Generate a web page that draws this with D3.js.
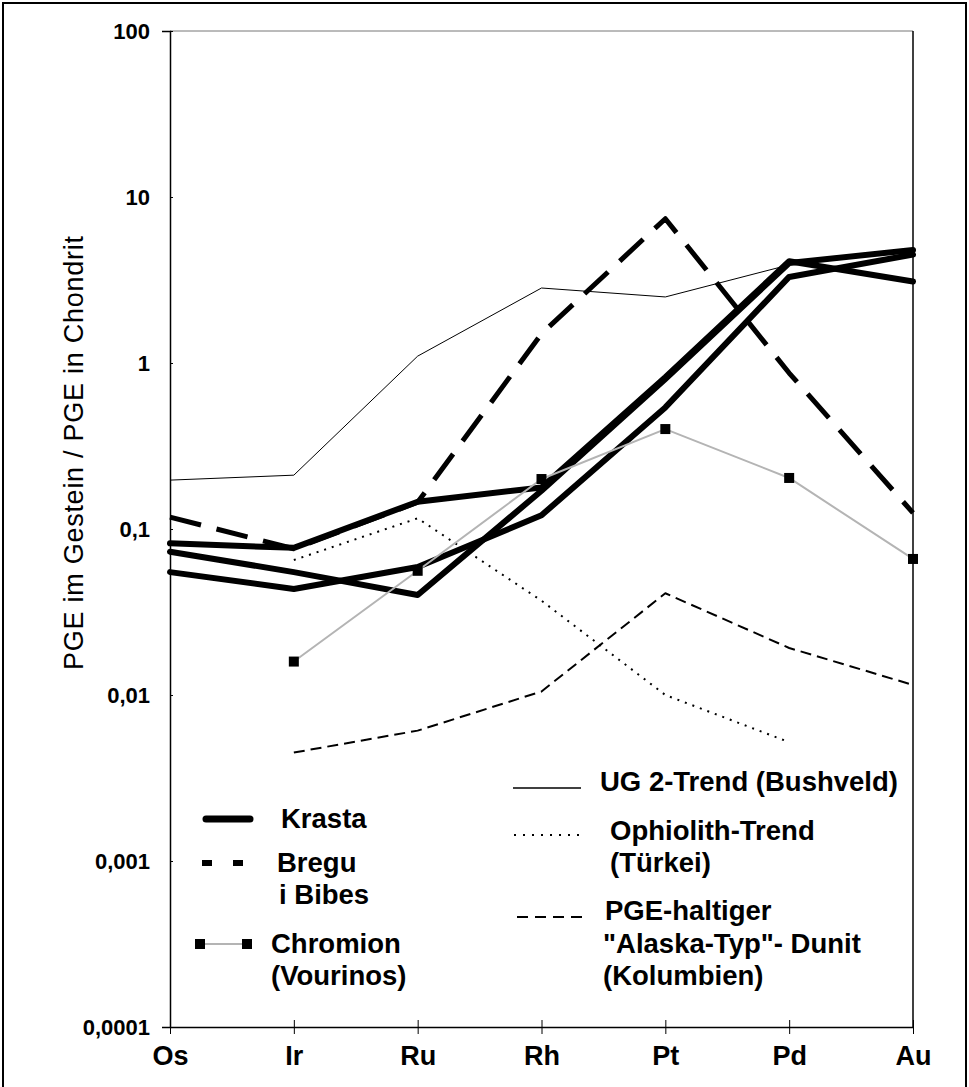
<!DOCTYPE html>
<html>
<head>
<meta charset="utf-8">
<script src="https://cdn.jsdelivr.net/npm/d3@7"></script>
<style>
  body { margin: 0; background: #fff; }
  svg { font-family: "Liberation Sans", Arial, sans-serif; }
</style>
</head>
<body>
<div id="chart"></div>
<script>
// Elemente (x-Achse)
const elements = ['Os', 'Ir', 'Ru', 'Rh', 'Pt', 'Pd', 'Au'];

// PGE im Gestein / PGE in Chondrit
const krasta1 = [0.082, 0.077, 0.146, 0.178, 0.82, 4.1, 3.1];
const krasta2 = [0.073, 0.055, 0.040, 0.17, 0.80, 4.0, 4.8];
const krasta3 = [0.055, 0.0435, 0.059, 0.121, 0.54, 3.3, 4.5];
const bregu = [0.118, 0.076, 0.145, 1.5, 7.4, 0.87, 0.125];
const chromion = [null, 0.0159, 0.056, 0.2, 0.40, 0.203, 0.066];
const ug2 = [0.197, 0.211, 1.1, 2.83, 2.5, 3.9, 4.7];
const ophiolith = [null, 0.065, 0.116, 0.037, 0.010, 0.0052, null];
const kolumbien = [null, 0.0045, 0.0061, 0.0105, 0.041, 0.0192, 0.0115];

const yTicks = [0.0001, 0.001, 0.01, 0.1, 1, 10, 100];
const yTickLabels = ['0,0001', '0,001', '0,01', '0,1', '1', '10', '100'];

const width = 969;
const height = 1087;
const margin = { top: 31, right: 56, bottom: 60, left: 170 };

const svg = d3
  .select('#chart')
  .append('svg')
  .attr('width', width)
  .attr('height', height);

// Rahmen
svg
  .append('path')
  .attr('d', `M3,${height + 5}V3H966V${height + 5}`)
  .attr('fill', 'none')
  .attr('stroke', '#000')
  .attr('stroke-width', 2);

const x = d3
  .scalePoint()
  .domain(elements)
  .range([margin.left, width - margin.right]);

const y = d3
  .scaleLog()
  .domain([0.0001, 100])
  .range([height - margin.bottom, margin.top]);

// obere und rechte Begrenzung
svg
  .append('line')
  .attr('x1', margin.left)
  .attr('x2', width - margin.right)
  .attr('y1', margin.top)
  .attr('y2', margin.top)
  .attr('stroke', '#777')
  .attr('stroke-width', 1);

svg
  .append('line')
  .attr('x1', width - margin.right)
  .attr('x2', width - margin.right)
  .attr('y1', margin.top)
  .attr('y2', height - margin.bottom)
  .attr('stroke', '#000')
  .attr('stroke-width', 1.5);

// Achsen
const yAxis = svg
  .append('g')
  .attr('transform', `translate(${margin.left},0)`)
  .call(
    d3
      .axisLeft(y)
      .tickValues(yTicks)
      .tickFormat((d, i) => yTickLabels[i])
      .tickSize(8)
      .tickPadding(12)
  );
yAxis.select('.domain').attr('stroke-width', 1.5);
yAxis.selectAll('.tick line').attr('x2', 3);
yAxis
  .selectAll('.tick text')
  .attr('font-size', 22)
  .attr('font-weight', 'bold')
  .attr('fill', '#000')
  .attr('font-family', '"Liberation Sans", Arial, sans-serif');

const xAxis = svg
  .append('g')
  .attr('transform', `translate(0,${height - margin.bottom})`)
  .call(d3.axisBottom(x).tickSize(7).tickPadding(12).tickSizeOuter(0));
xAxis.select('.domain').attr('stroke-width', 1.5);
xAxis.selectAll('.tick line').attr('y1', -7);
xAxis
  .selectAll('.tick text')
  .attr('font-size', 27)
  .attr('font-weight', 'bold')
  .attr('fill', '#000')
  .attr('font-family', '"Liberation Sans", Arial, sans-serif');

// Achsentitel
svg
  .append('text')
  .attr('transform', 'translate(83,453) rotate(-90)')
  .attr('text-anchor', 'middle')
  .attr('font-size', 27)
  .attr('textLength', 434)
  .text('PGE im Gestein / PGE in Chondrit');

const line = d3
  .line()
  .defined((d) => d != null)
  .x((d, i) => x(elements[i]))
  .y((d) => y(d));

function drawSeries(values, style) {
  svg
    .append('path')
    .datum(values)
    .attr('fill', 'none')
    .attr('stroke', style.color)
    .attr('stroke-width', style.width)
    .attr('stroke-dasharray', style.dash || null)
    .attr('stroke-linejoin', 'round')
    .attr('stroke-linecap', style.cap || 'butt')
    .attr('d', line);
}

drawSeries(ug2, { color: '#000', width: 1 });
drawSeries(kolumbien, { color: '#000', width: 2, dash: '11,6' });
drawSeries(ophiolith, { color: '#000', width: 2, dash: '2,6' });
drawSeries(bregu, { color: '#000', width: 5, dash: '32,16' });
drawSeries(krasta3, { color: '#000', width: 6, cap: 'round' });
drawSeries(krasta2, { color: '#000', width: 6, cap: 'round' });
drawSeries(krasta1, { color: '#000', width: 6, cap: 'round' });
drawSeries(chromion, { color: '#b4b4b4', width: 2 });

svg
  .selectAll('.chromion-pt')
  .data(chromion.map((v, i) => ({ el: elements[i], v })).filter((d) => d.v != null))
  .enter()
  .append('rect')
  .attr('class', 'chromion-pt')
  .attr('x', (d) => x(d.el) - 5)
  .attr('y', (d) => y(d.v) - 5)
  .attr('width', 10)
  .attr('height', 10)
  .attr('fill', '#000');

// Legende
const legend = svg
  .append('g')
  .attr('font-size', 27.5)
  .attr('font-weight', 'bold');

function legendText(tx, ty, str) {
  legend.append('text').attr('x', tx).attr('y', ty).text(str);
}

function legendLine(x1, x2, ly, stroke, w, dash, cap) {
  legend
    .append('line')
    .attr('x1', x1)
    .attr('x2', x2)
    .attr('y1', ly)
    .attr('y2', ly)
    .attr('stroke', stroke)
    .attr('stroke-width', w)
    .attr('stroke-dasharray', dash || null)
    .attr('stroke-linecap', cap || 'butt');
}

legendLine(206, 250, 819, '#000', 7, null, 'round');
legendText(281, 828, 'Krasta');

legendLine(202, 243, 863, '#000', 6, '10,21');
legendText(277, 872, 'Bregu');
legendText(279, 904, 'i Bibes');

legendLine(200, 247, 944, '#b4b4b4', 2);
legend.append('rect').attr('x', 195).attr('y', 939).attr('width', 10).attr('height', 10).attr('fill', '#000');
legend.append('rect').attr('x', 242).attr('y', 939).attr('width', 10).attr('height', 10).attr('fill', '#000');
legendText(271, 953, 'Chromion');
legendText(271, 985, '(Vourinos)');

legendLine(513, 581, 788, '#000', 1.5);
legendText(600, 791, 'UG 2-Trend (Bushveld)');

legendLine(514, 581, 835, '#000', 2, '2,7');
legendText(610, 840, 'Ophiolith-Trend');
legendText(610, 872, '(Türkei)');

legendLine(517, 582, 917, '#000', 2, '11,7');
legendText(605, 920, 'PGE-haltiger');
legendText(603, 953, '"Alaska-Typ"- Dunit');
legendText(603, 985, '(Kolumbien)');
</script>
</body>
</html>
